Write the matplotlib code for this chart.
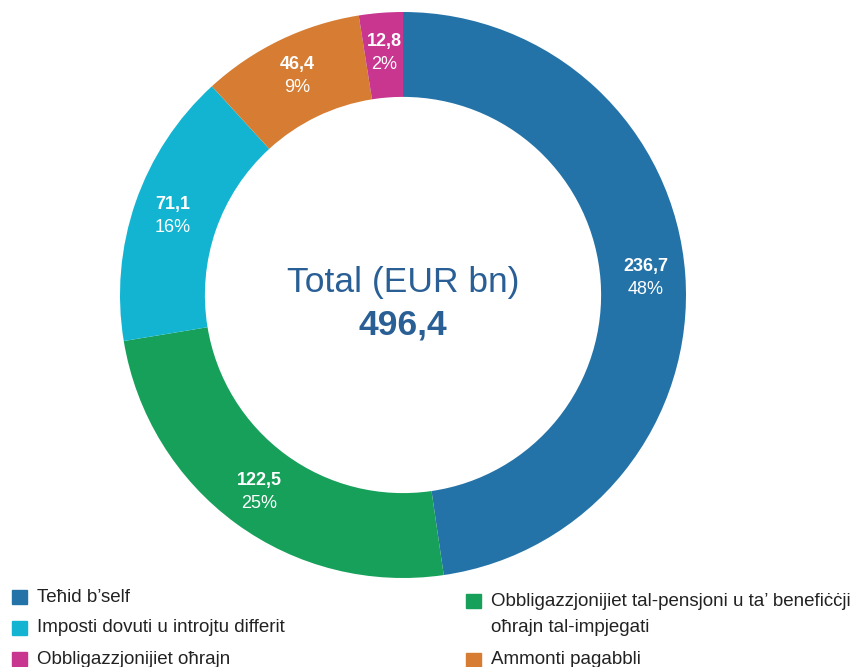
import matplotlib.pyplot as plt
import numpy as np

plt.rcParams['font.family'] = ['Liberation Sans', 'DejaVu Sans']

# slices, clockwise from 12 o'clock
names = ["Teħid b’self",
         "Obbligazzjonijiet tal-pensjoni u ta’ benefiċċji\noħrajn tal-impjegati",
         "Imposti dovuti u introjtu differit",
         "Ammonti pagabbli",
         "Obbligazzjonijiet oħrajn"]
amounts = ["236,7", "122,5", "71,1", "46,4", "12,8"]
pct_labels = ["48%", "25%", "16%", "9%", "2%"]
# share of the ring each slice takes in the picture (%)
shares = [47.7, 24.7, 15.8, 9.3, 2.5]
colors = ["#2473a8", "#16a05a", "#12b4d1", "#d67d33", "#c8368f"]
total_label = "496,4"

W, H = 857, 667
fig = plt.figure(figsize=(W / 100, H / 100), dpi=100)

cx, cy, R = 403, 295, 283
ax = fig.add_axes([(cx - R) / W, (H - cy - R) / H, 2 * R / W, 2 * R / H])
width = 0.30
wedges, _ = ax.pie(shares, colors=colors, startangle=90, counterclock=False,
                   radius=1, wedgeprops=dict(width=width, edgecolor='none'))
ax.set_xlim(-1, 1)
ax.set_ylim(-1, 1)
ax.set_aspect('equal')
ax.axis('off')

rmid = 0.86
for w, a, p in zip(wedges, amounts, pct_labels):
    ang = np.deg2rad((w.theta1 + w.theta2) / 2)
    x, y = rmid * np.cos(ang), rmid * np.sin(ang)
    ax.text(x, y + 0.04, a, color='white', fontsize=13, fontweight='bold',
            ha='center', va='center')
    ax.text(x, y - 0.042, p, color='white', fontsize=13, ha='center', va='center')

ax.text(0, 0.045, "Total (EUR bn)", color="#2a5f96", fontsize=25.5,
        ha='center', va='center')
ax.text(0, -0.105, total_label, color="#2a5f96", fontsize=25.5, fontweight='bold',
        ha='center', va='center')

# legend, two columns: (marker left x, row centre y) in pixels
pos = [(12, 597), (466, 601), (12, 628), (466, 660), (12, 659)]
for i in range(len(names)):
    x, y = pos[i]
    fig.patches.append(plt.Rectangle((x / W, 1 - (y + 7) / H), 15 / W, 14 / H,
                                     transform=fig.transFigure, color=colors[i]))
    lines = names[i].split('\n')
    for k, line in enumerate(lines):
        fig.text((x + 25) / W, 1 - (y + 26 * k) / H, line, fontsize=13.5,
                 color="#222222", va='center')

fig.savefig("out.png", dpi=100)
